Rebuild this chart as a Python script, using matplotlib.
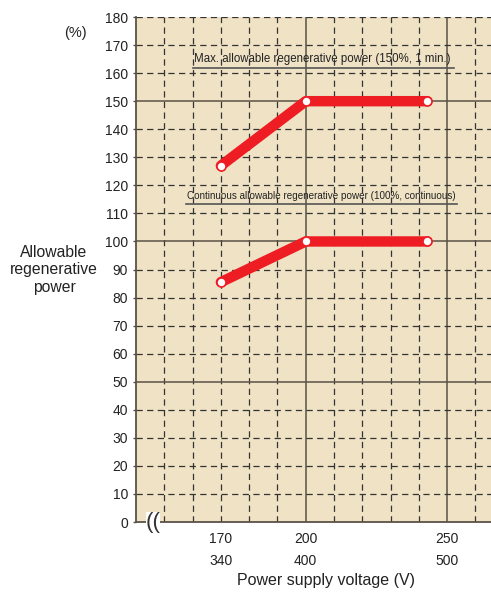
import matplotlib.pyplot as plt
from matplotlib.patches import Rectangle

plt.rcParams['font.family'] = ['Liberation Sans', 'DejaVu Sans']

# data
voltage = [170, 200, 243]
max_power = [127, 150, 150]
cont_power = [85.5, 100, 100]
tick_v = [170, 200, 250]
tick_labels = ["170\n340", "200\n400", "250\n500"]
y_ticks = list(range(0, 190, 10))

red = "#ee1d24"
bg = "#efe2c5"
dark = "#333333"
solid = "#5a5246"

fig = plt.figure(figsize=(4.91, 5.97), dpi=100)
ax = fig.add_axes([0.277, 0.1256, 0.723, 0.8459])
ax.set_facecolor(bg)
ax.set_xlim(140, 265.5)
ax.set_ylim(0, 180)

# grid: solid at major, dashed elsewhere
for xv in range(150, 270, 10):
    if xv in (200, 250):
        ax.axvline(xv, color=solid, lw=1.1, zorder=1)
    else:
        ax.axvline(xv, color=dark, lw=0.9, ls=(0, (5, 3.5)), zorder=1)
for yv in y_ticks[1:]:
    if yv in (50, 100, 150):
        ax.axhline(yv, color=solid, lw=1.1, zorder=1)
    else:
        ax.axhline(yv, color=dark, lw=0.9, ls=(0, (5, 3.5)), zorder=1)

for s in ["top", "right"]:
    ax.spines[s].set_visible(False)
ax.spines["left"].set_color(solid)
ax.spines["bottom"].set_color(solid)
ax.spines["left"].set_linewidth(1.3)
ax.spines["bottom"].set_linewidth(1.3)

ax.set_yticks(y_ticks)
ax.tick_params(axis="y", length=2.5, width=1, color=solid, pad=3.3,
               labelsize=10, labelcolor="#222222")
ax.set_xticks(tick_v)
ax.set_xticklabels(tick_labels, linespacing=1.75)
ax.tick_params(axis="x", length=0, pad=7, labelsize=10, labelcolor="#222222")

# lines
for ys in (max_power, cont_power):
    ax.plot(voltage, ys, color=red, lw=7.5, solid_capstyle="round", zorder=3)
    ax.plot(voltage, ys, ls="none", marker="o", ms=6.5, mfc="white",
            mec=red, mew=1.2, zorder=4)

# annotations
ax.text(160.6, 163.0, "Max. allowable regenerative power (150%, 1 min.)",
        fontsize=8.3, va="bottom", ha="left", color="#222222")
ax.plot([160, 252.3], [161.8, 161.8], color="#555555", lw=1.2, zorder=2)
ax.text(157.9, 114.5, "Continuous allowable regenerative power (100%, continuous)",
        fontsize=7.1, va="bottom", ha="left", color="#222222")
ax.plot([157.6, 253.4], [113.3, 113.3], color="#555555", lw=1.2, zorder=2)

# axis break mark
ax.add_patch(Rectangle((143.6, -3.5), 5.0, 7.0, facecolor="white",
                       edgecolor="none", clip_on=False, zorder=5))
ax.text(146.1, 0, "((", fontsize=16, ha="center", va="center", color=dark,
        clip_on=False, zorder=6)

fig.text(0.154, 0.945, "(%)", fontsize=10.5, ha="center", va="center",
         color="#222222")
fig.text(0.110, 0.548, "Allowable\nregenerative\npower", fontsize=11.3,
         ha="center", va="center", linespacing=1.2, color="#222222")
fig.text(0.663, 0.028, "Power supply voltage (V)", fontsize=11.5,
         ha="center", va="center", color="#222222")

fig.savefig("out.png", dpi=100)
